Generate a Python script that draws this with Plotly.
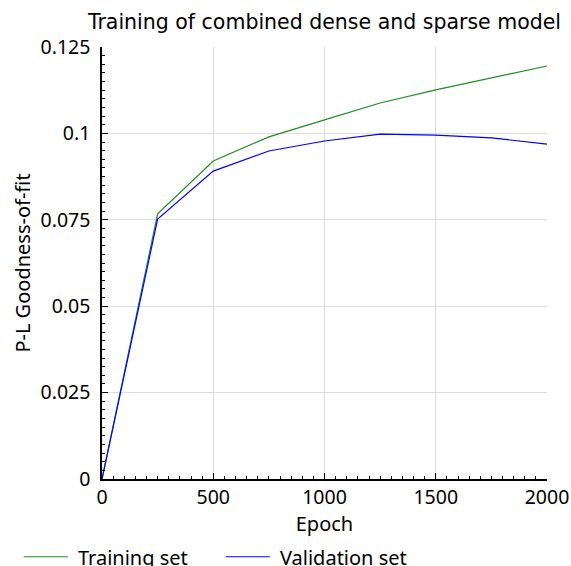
import plotly.graph_objects as go

epochs = [0, 250, 500, 750, 1000, 1250, 1500, 1750, 2000]
training = [0.0, 0.0767, 0.0920, 0.0990, 0.1039, 0.1088, 0.1126, 0.1160, 0.1195]
validation = [0.0, 0.0752, 0.0891, 0.0949, 0.0978, 0.0998, 0.0995, 0.0987, 0.0969]
x_ticks = [0, 500, 1000, 1500, 2000]
y_ticks = [0, 0.025, 0.05, 0.075, 0.1, 0.125]
y_labels = ["0", "0.025", "0.05", "0.075", "0.1", "0.125"]
series_names = ["Training set", "Validation set"]

FONT = "Noto Sans"

fig = go.Figure()
fig.add_trace(go.Scatter(x=epochs, y=training, mode="lines", name="\u00a0" + series_names[0],
                         line=dict(color="#228b22", width=1.2)))
fig.add_trace(go.Scatter(x=epochs, y=validation, mode="lines", name="\u00a0" + series_names[1],
                         line=dict(color="#0000ff", width=1.2)))

fig.update_layout(
    width=571, height=566,
    margin=dict(l=102, r=24, t=47, b=87, autoexpand=False),
    paper_bgcolor="white", plot_bgcolor="white",
    font=dict(family=FONT, size=19, color="black"),
    title=dict(text="Training of combined dense and sparse model", x=0.5, xref="paper",
               xanchor="center", y=0.962, yref="container", yanchor="middle",
               font=dict(size=20.5, family="DejaVu Sans")),
    showlegend=True,
    legend=dict(orientation="h", x=-0.187, xanchor="left", y=-0.180, yanchor="middle",
                font=dict(size=20), itemwidth=44, entrywidth=143, bgcolor="rgba(0,0,0,0)"),
    xaxis=dict(range=[0, 2000], tickvals=x_ticks,
               showgrid=True, gridcolor="#dddddd", gridwidth=1,
               showline=True, linecolor="black", linewidth=1.5, zeroline=False,
               ticks="inside", ticklen=6, tickcolor="black",
               minor=dict(ticks="inside", dtick=50, ticklen=3, tickcolor="black", showgrid=False),
               title=dict(text="Epoch", font=dict(size=20), standoff=0),
               tickfont=dict(size=19.5), automargin=False),
    yaxis=dict(range=[0, 0.125], tickvals=y_ticks, ticktext=y_labels,
               showgrid=True, gridcolor="#dddddd", gridwidth=1,
               showline=True, linecolor="black", linewidth=1.5, zeroline=False,
               ticks="inside", ticklen=6, tickcolor="black",
               minor=dict(ticks="inside", dtick=0.0025, ticklen=3, tickcolor="black", showgrid=False),
               title=dict(text="P-L Goodness-of-fit", font=dict(size=20), standoff=5),
               tickfont=dict(size=19.5), ticklabelstandoff=6, automargin=False),
)

fig.write_html("out.html")
